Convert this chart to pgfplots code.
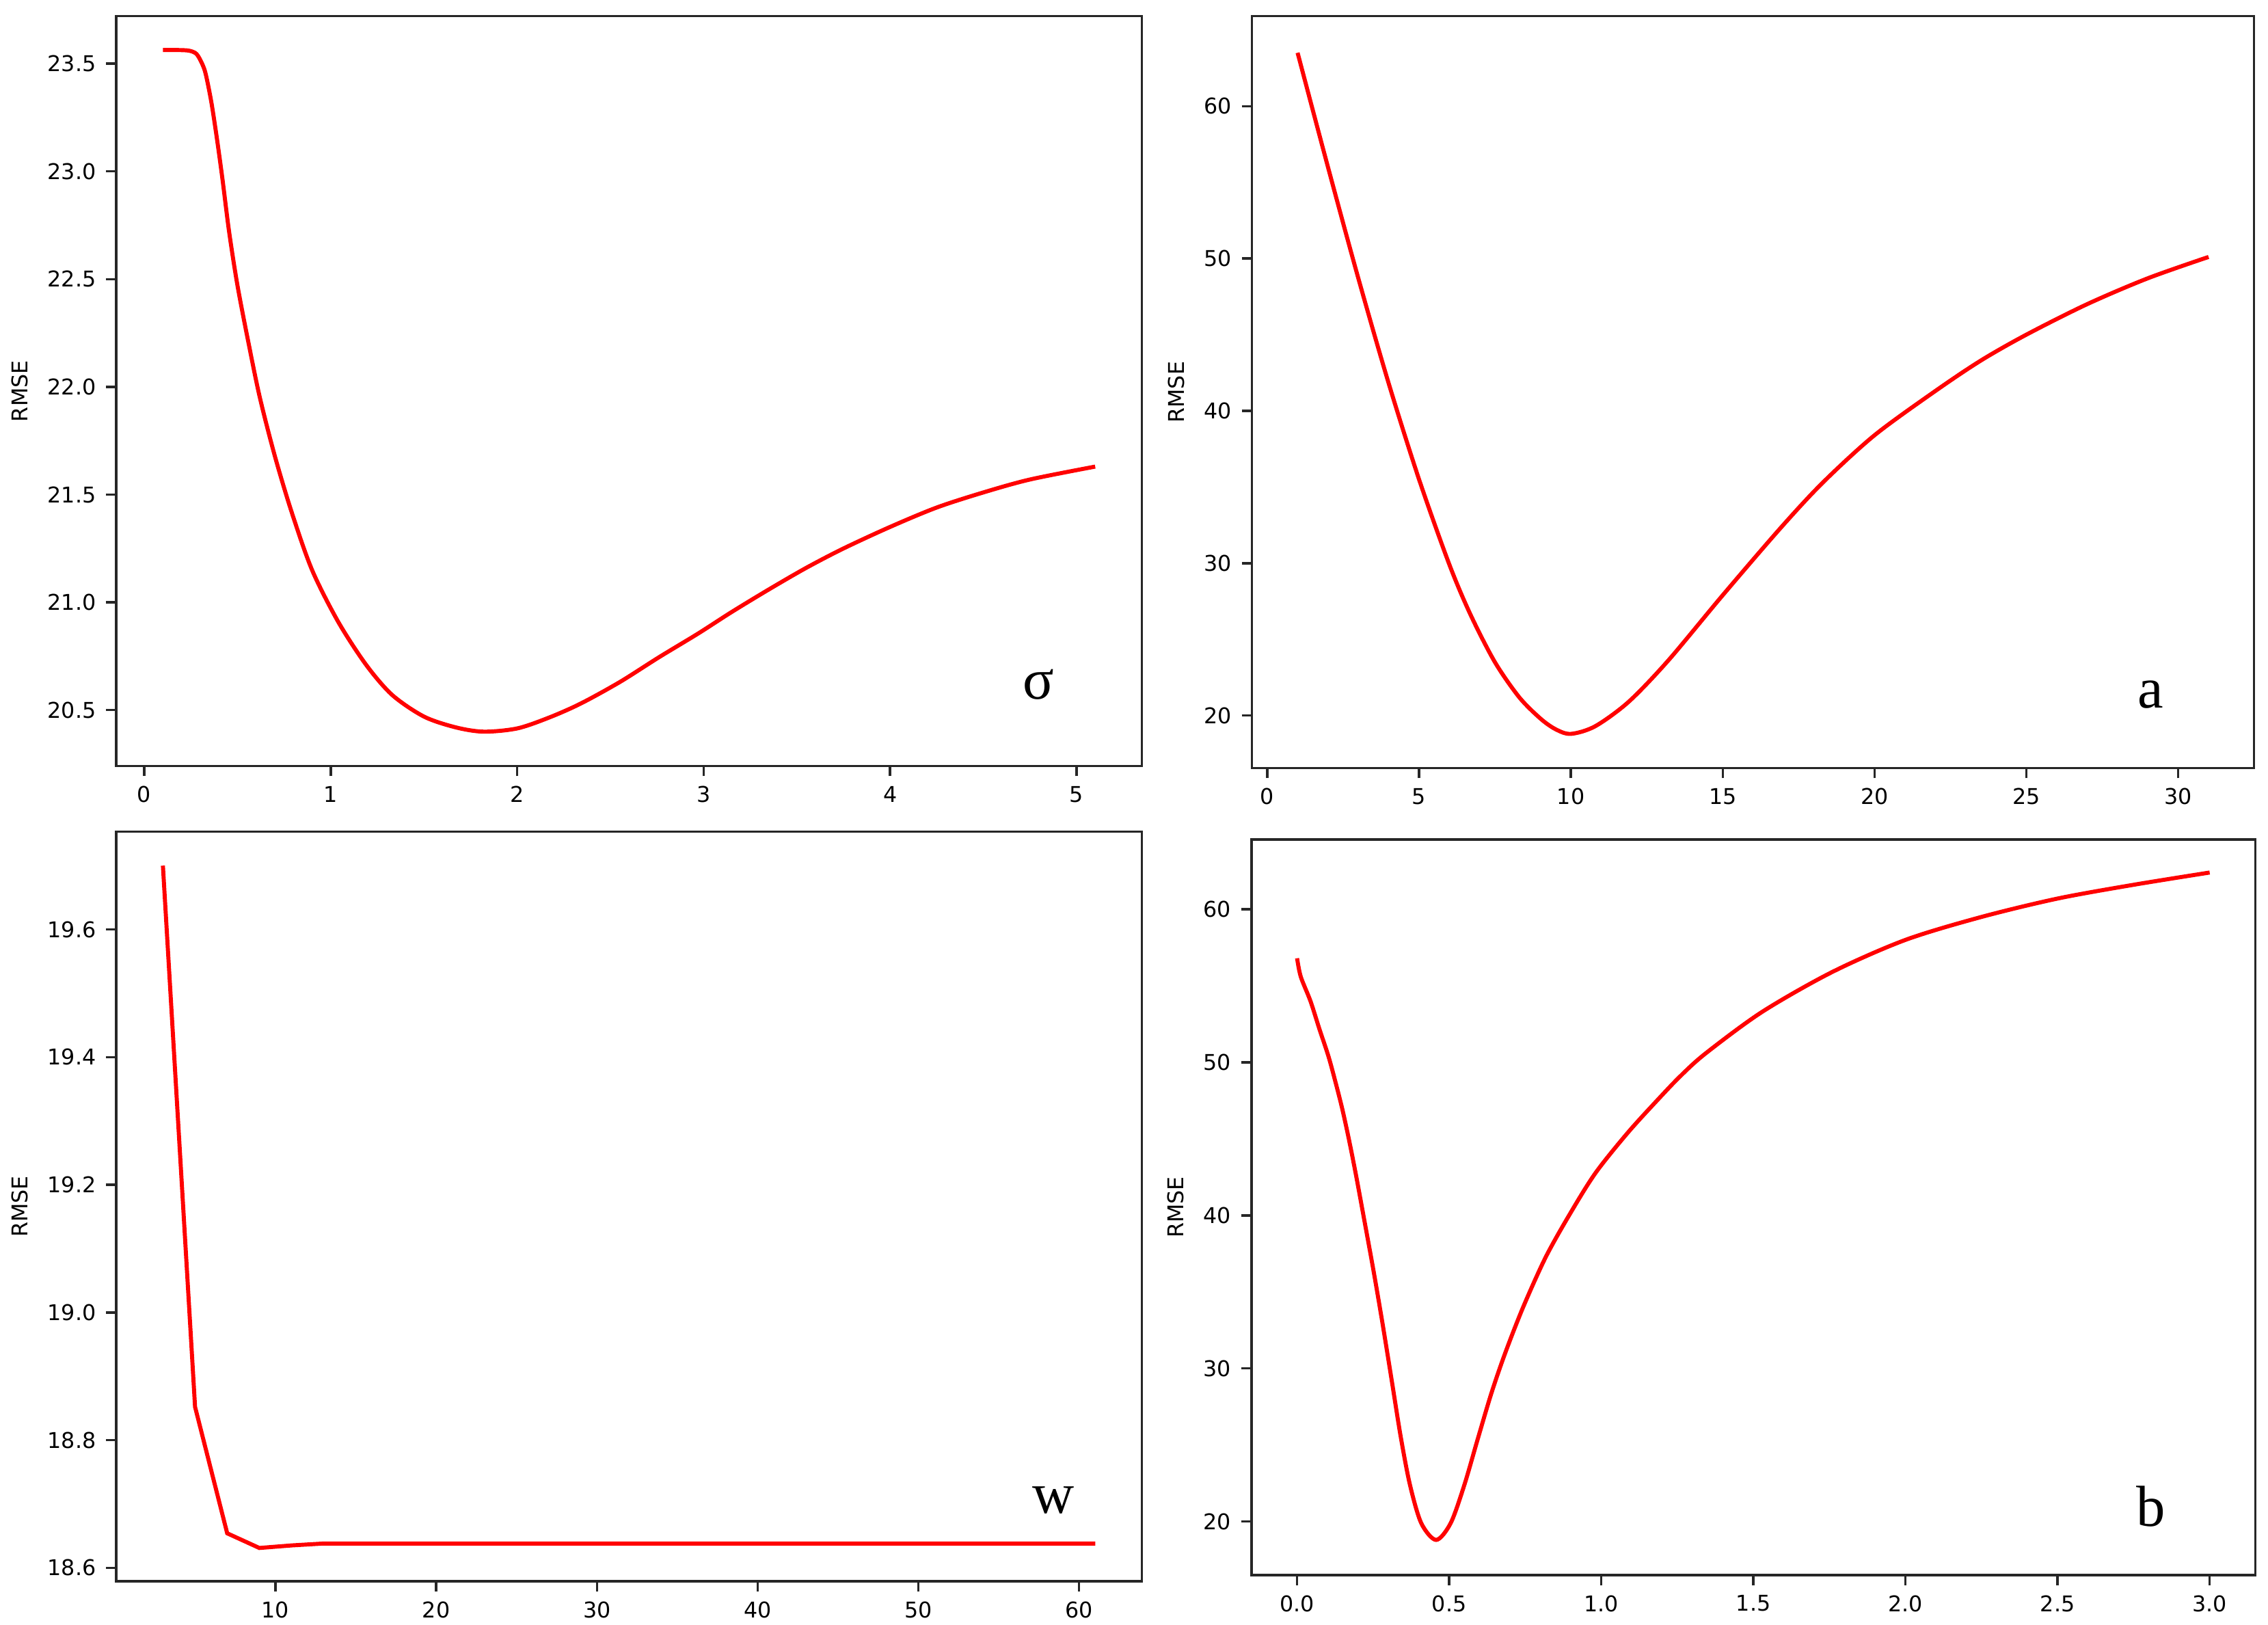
\documentclass[border=0pt]{standalone}
\usepackage{fontspec}
\setmainfont{DejaVu Sans}
\newfontfamily\seriffont{Liberation Serif}
\usepackage{pgfplots}
\pgfplotsset{compat=1.18}

\pgfplotsset{
  panel/.style={
    scale only axis,
    anchor=north west,
    axis line style={line width=0.8pt, black!85},
    every tick/.style={line width=0.8pt, black!85},
    tick align=outside,
    major tick length=3.5pt,
    xtick pos=left, ytick pos=left,
    minor tick num=0,
    scaled ticks=false,
    /pgf/number format/assume math mode=true,
    ticklabel style={font=\fontsize{7.5}{9}\selectfont},
    label style={font=\fontsize{7.5}{9}\selectfont},
    ylabel={RMSE},
    every axis plot/.append style={red, line width=1.4pt},
  },
  onedec/.style={/pgf/number format/.cd, fixed, fixed zerofill, precision=1, assume math mode=true},
}
\tikzset{tag/.style={font=\seriffont\fontsize{20}{24}\selectfont, inner sep=0pt}}

\begin{document}
\begin{tikzpicture}
\useasboundingbox (0,0) rectangle (784pt,-561.5pt);

% sigma
\begin{axis}[panel, at={(40.2pt,-5.6pt)}, width=354.5pt, height=259.2pt,
  xmin=-0.15, xmax=5.35, ymin=20.24, ymax=23.72,
  xtick={0,1,2,3,4,5}, ytick={20.5,21,21.5,22,22.5,23,23.5},
  yticklabel style={onedec}]
\addplot[smooth] coordinates {
(0.10,23.563) (0.18,23.563) (0.24,23.560) (0.28,23.545) (0.31,23.50)
(0.33,23.45) (0.36,23.32) (0.39,23.15) (0.42,22.96) (0.455,22.72)
(0.50,22.47) (0.56,22.20) (0.62,21.95) (0.70,21.68) (0.79,21.42)
(0.90,21.15) (1.04,20.91) (1.19,20.71) (1.33,20.57) (1.50,20.47)
(1.67,20.42) (1.82,20.40) (2.00,20.415) (2.17,20.465) (2.34,20.53)
(2.55,20.63) (2.76,20.745) (2.97,20.855) (3.15,20.955) (3.35,21.06)
(3.55,21.16) (3.75,21.25) (4.00,21.35) (4.25,21.44) (4.50,21.51)
(4.75,21.57) (5.10,21.63)
};
\node[tag] at (axis cs:4.795,20.62) {σ};
\end{axis}

% a
\begin{axis}[panel, at={(432.8pt,-5.6pt)}, width=346.4pt, height=259.9pt,
  xmin=-0.5, xmax=32.5, ymin=16.55, ymax=65.9,
  xtick={0,5,10,15,20,25,30}, ytick={20,30,40,50,60}]
\addplot[smooth] coordinates {
(1.0,63.5) (2.0,56.0) (3.0,48.7) (4.0,41.8) (5.0,35.5) (6.0,29.9)
(6.7,26.6) (7.5,23.5) (8.3,21.2) (9.0,19.8) (9.5,19.1) (10.0,18.8)
(10.8,19.3) (11.9,20.9) (13.2,23.6) (15.0,27.9) (16.9,32.3) (18.3,35.3)
(20.0,38.4) (22.0,41.3) (23.5,43.3) (25.0,45.0) (27.0,47.0) (29.0,48.7)
(31.0,50.1)
};
\node[tag] at (axis cs:29.09,21.36) {a};
\end{axis}

% w
\begin{axis}[panel, at={(40.2pt,-287.5pt)}, width=354.5pt, height=259pt,
  xmin=0.1, xmax=63.9, ymin=18.579, ymax=19.753,
  xtick={10,20,30,40,50,60}, ytick={18.6,18.8,19.0,19.2,19.4,19.6},
  yticklabel style={onedec}]
\addplot[sharp plot] coordinates {
(3,19.70) (5,18.852) (7,18.654) (9,18.631) (11,18.635) (13,18.638)
(15,18.638) (21,18.638) (31,18.638) (41,18.638) (51,18.638) (61,18.638)
};
\node[tag] at (axis cs:58.4,18.706) {w};
\end{axis}

% b
\begin{axis}[panel, at={(432.6pt,-290.2pt)}, width=347pt, height=254.2pt,
  xmin=-0.15, xmax=3.15, ymin=16.5, ymax=64.55,
  xtick={0,0.5,1,1.5,2,2.5,3}, ytick={20,30,40,50,60},
  xticklabel style={onedec}]
\addplot[smooth] coordinates {
(0.000,56.8) (0.012,55.6) (0.044,54.0) (0.073,52.2) (0.103,50.4)
(0.125,48.8) (0.148,47.0) (0.170,45.0) (0.193,42.7) (0.219,39.9)
(0.252,36.3) (0.282,32.8) (0.312,29.1) (0.341,25.5) (0.371,22.4)
(0.408,19.9) (0.457,18.8) (0.505,19.9) (0.550,22.4) (0.594,25.4)
(0.639,28.4) (0.684,31.0) (0.743,34.0) (0.818,37.3) (0.900,40.2)
(0.982,42.8) (1.087,45.4) (1.183,47.5) (1.260,49.1) (1.344,50.6)
(1.529,53.3) (1.759,55.9) (2.000,58.0) (2.250,59.5) (2.500,60.7)
(2.750,61.6) (3.000,62.4)
};
\node[tag] at (axis cs:2.807,21.0) {b};
\end{axis}
\end{tikzpicture}
\end{document}
